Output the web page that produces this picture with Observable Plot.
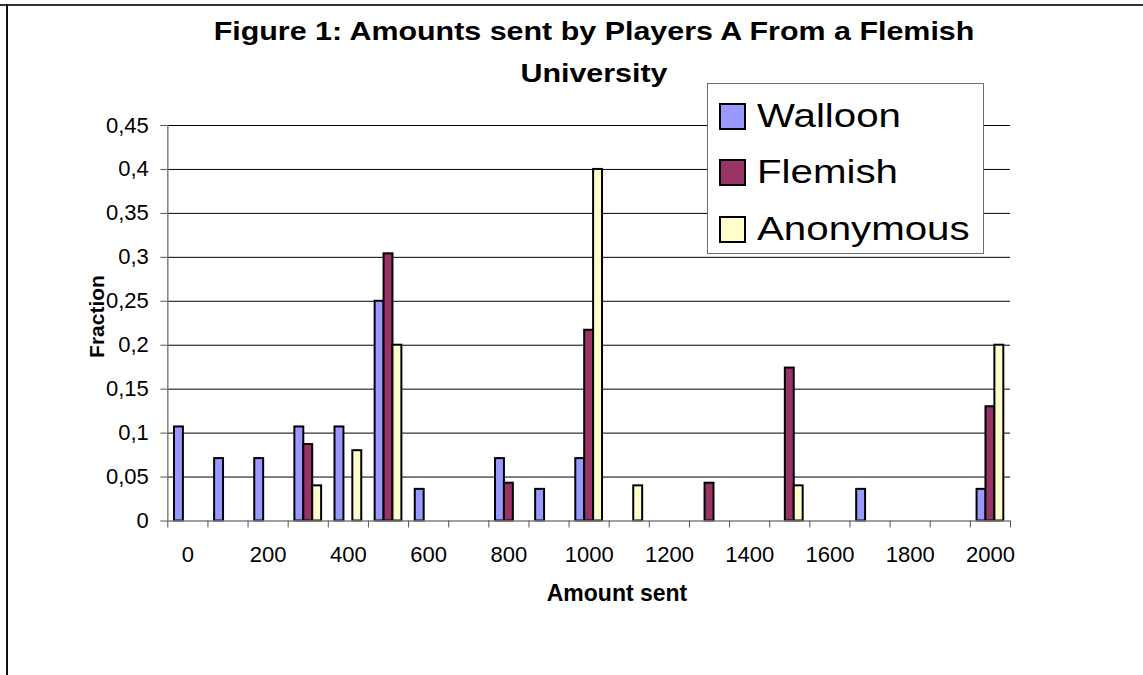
<!DOCTYPE html>
<html><head><meta charset="utf-8">
<script src="https://cdn.jsdelivr.net/npm/d3@7"></script>
<script src="https://cdn.jsdelivr.net/npm/@observablehq/plot@0.6"></script>
<style>
html,body{margin:0;padding:0;background:#fff;overflow:hidden;font-family:"Liberation Sans",Arial,sans-serif;}
#wrap{position:relative;width:1143px;height:675px;overflow:hidden;background:#fff;}
#wrap svg{position:absolute;left:0;top:0;}
.frameTop{position:absolute;left:0;top:4px;width:1143px;height:1.5px;background:#333;}
.frameLeft{position:absolute;left:6px;top:4px;width:1.5px;height:671px;background:#111;}
.title{position:absolute;left:0;width:1188px;text-align:center;font-weight:bold;font-size:26px;line-height:42px;height:42px;transform:scaleX(1.17);transform-origin:594px 0;white-space:nowrap;color:#000;}
.xlabel{position:absolute;left:517px;width:200px;top:582px;text-align:center;font-weight:bold;font-size:23px;line-height:23px;}
.ylabel{position:absolute;left:-4px;width:200px;top:305.5px;text-align:center;font-weight:bold;font-size:21px;line-height:21px;transform:rotate(-90deg);transform-origin:100px 10.5px;}
.legend{position:absolute;left:706.5px;top:83px;width:275px;height:169px;border:1px solid #707070;background:#fff;}
.legend .row{position:absolute;left:0;height:40px;width:275px;}
.legend .sw{position:absolute;left:11px;top:6.5px;width:23px;height:23px;border:2px solid #000;}
.legend .lab{position:absolute;left:49px;top:0;font-size:33px;line-height:40px;white-space:nowrap;transform:scaleX(1.22);transform-origin:0 0;}
</style></head><body>
<div id="wrap"></div>
<script>
const amounts = [0,100,200,300,400,500,600,700,800,900,1000,1100,1200,1300,1400,1500,1600,1700,1800,1900,2000];
const walloon   = [0.107,0.071,0.071,0.107,0.107,0.25,0.036,0,0.071,0.036,0.071,0,0,0,0,0,0,0.036,0,0,0.036];
const flemish   = [0,0,0,0.087,0,0.304,0,0,0.043,0,0.217,0,0,0.043,0,0.174,0,0,0,0,0.13];
const anonymous = [0,0,0,0.04,0.08,0.2,0,0,0,0,0.4,0.04,0,0,0,0.04,0,0,0,0,0.2];
const seriesNames = ["Walloon","Flemish","Anonymous"];
const seriesColors = ["#9999FF","#993366","#FFFFCC"];
const yTicks = [0,0.05,0.1,0.15,0.2,0.25,0.3,0.35,0.4,0.45];
const xTickLabels = [0,200,400,600,800,1000,1200,1400,1600,1800,2000];
const titleLines = ["Figure 1: Amounts sent by Players A From a Flemish","University"];
const xTitle = "Amount sent";
const yTitle = "Fraction";

const rows = [];
[walloon, flemish, anonymous].forEach((vals, s) => vals.forEach((v, i) => {
  if (v > 0) rows.push({amount: amounts[i], series: seriesNames[s], idx: s, value: v});
}));

const step = 100;          // category spacing in data units
const halfGap = 1/6;       // Excel gap width 150%
const barW = 2/9;
const boundaries = amounts.map(a => a - step/2).concat([amounts[amounts.length-1] + step/2]);

const chart = Plot.plot({
  width: 1143, height: 675,
  marginLeft: 167.3, marginRight: 133, marginTop: 125, marginBottom: 154.5,
  style: {fontFamily: "Liberation Sans, Arial, sans-serif", fontSize: "22px", background: "transparent", color: "#000"},
  x: {domain: [boundaries[0], boundaries[boundaries.length-1]]},
  y: {domain: [0, 0.45]},
  color: {domain: seriesNames, range: seriesColors},
  marks: [
    Plot.ruleY(yTicks.filter(d => d > 0), {stroke: "#000", strokeWidth: 1}),
    Plot.rect(rows, {
      x1: d => d.amount - step/2 + step*(halfGap + d.idx*barW),
      x2: d => d.amount - step/2 + step*(halfGap + (d.idx+1)*barW),
      y1: 0, y2: "value",
      fill: "series", stroke: "#000", strokeWidth: 2
    }),
    Plot.ruleY([0], {stroke: "#808080", strokeWidth: 1.5}),
    Plot.ruleX([boundaries[0]], {stroke: "#808080", strokeWidth: 1.5}),
    Plot.axisY({ticks: yTicks, tickSize: 7, tickPadding: 12, stroke: "#555",
      tickFormat: d => String(d).replace(".", ","), label: null}),
    Plot.axisX({ticks: boundaries, tickSize: 7, tickFormat: () => "", stroke: "#555", label: null}),
    Plot.axisX({ticks: xTickLabels, tickSize: 0, tickPadding: 25, tickFormat: d => String(d), label: null})
  ]
});

const wrap = document.getElementById("wrap");
wrap.appendChild(chart);

const ft = document.createElement("div"); ft.className = "frameTop"; wrap.appendChild(ft);
const fl = document.createElement("div"); fl.className = "frameLeft"; wrap.appendChild(fl);

titleLines.forEach((t, i) => {
  const d = document.createElement("div");
  d.className = "title";
  d.style.top = (9.5 + i*42) + "px";
  d.textContent = t;
  wrap.appendChild(d);
});

const xl = document.createElement("div"); xl.className = "xlabel"; xl.textContent = xTitle; wrap.appendChild(xl);
const yl = document.createElement("div"); yl.className = "ylabel"; yl.textContent = yTitle; wrap.appendChild(yl);

const lg = document.createElement("div"); lg.className = "legend";
const rowTops = [12, 68, 125];
seriesNames.forEach((name, i) => {
  const r = document.createElement("div"); r.className = "row"; r.style.top = rowTops[i] + "px";
  const sw = document.createElement("div"); sw.className = "sw"; sw.style.background = seriesColors[i];
  const lab = document.createElement("div"); lab.className = "lab"; lab.textContent = name;
  r.appendChild(sw); r.appendChild(lab); lg.appendChild(r);
});
wrap.appendChild(lg);
</script>
</body></html>
